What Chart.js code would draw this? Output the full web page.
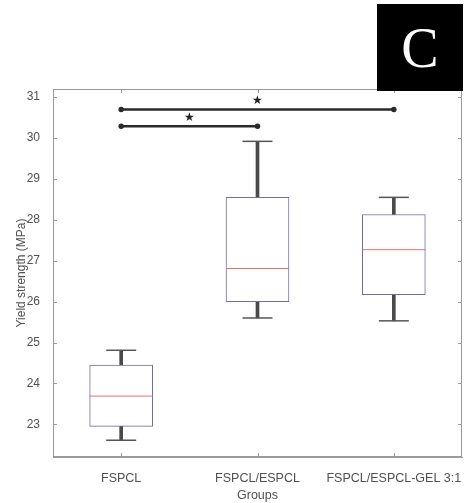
<!DOCTYPE html>
<html>
<head>
<meta charset="utf-8">
<script src="https://cdn.jsdelivr.net/npm/chart.js@4"></script>
<style>
  body { margin: 0; background: #fff; }
  #wrap { position: relative; width: 470px; height: 503px; }
  #panel {
    position: absolute; left: 377px; top: 4px; width: 86px; height: 87px;
    background: #000; color: #fff;
    font: 56px "Liberation Serif", "DejaVu Serif", serif;
    display: flex; align-items: center; justify-content: center;
  }
</style>
</head>
<body>
<div id="wrap">
  <canvas id="chart" width="470" height="503"></canvas>
  <div id="panel">C</div>
</div>
<script>
// Box plot summary per group
const groups = ['FSPCL', 'FSPCL/ESPCL', 'FSPCL/ESPCL-GEL 3:1'];
const whiskerLow = [22.61, 25.60, 25.53];
const q1 = [22.95, 26.00, 26.17];
const median = [23.69, 26.81, 27.27];
const q3 = [24.45, 28.55, 28.13];
const whiskerHigh = [24.81, 29.92, 28.55];

// Significance brackets: [from group, to group, height]
const sigPairs = [[0, 1, 30.29], [0, 2, 30.70]];
const starX = [0.5, 1];
const starY = [30.50, 30.90];

const yTicks = [23, 24, 25, 26, 27, 28, 29, 30, 31];

const FONT = "'Liberation Sans', Arial, sans-serif";
const AXIS_COLOR = '#9a9a9a';
const TEXT_COLOR = '#505050';

// Axes frame with inward tick marks, plus significance stars
const framePlugin = {
  id: 'frame',
  afterDatasetsDraw(chart) {
    const { ctx, chartArea: a, scales } = chart;
    ctx.save();
    ctx.strokeStyle = AXIS_COLOR;
    ctx.lineWidth = 1;
    ctx.strokeRect(a.left + 0.5, a.top + 0.5, a.right - a.left - 1, a.bottom - a.top - 1);
    ctx.beginPath();
    yTicks.forEach(v => {
      const y = Math.round(scales.y.getPixelForValue(v)) + 0.5;
      ctx.moveTo(a.left, y); ctx.lineTo(a.left + 4, y);
      ctx.moveTo(a.right, y); ctx.lineTo(a.right - 4, y);
    });
    groups.forEach((g, i) => {
      const x = Math.round(scales.x.getPixelForValue(i)) + 0.5;
      ctx.moveTo(x, a.bottom); ctx.lineTo(x, a.bottom - 4);
      ctx.moveTo(x, a.top); ctx.lineTo(x, a.top + 4);
    });
    ctx.stroke();

    ctx.fillStyle = '#222';
    ctx.font = "12px 'DejaVu Sans', sans-serif";
    ctx.textAlign = 'center';
    ctx.textBaseline = 'middle';
    starX.forEach((sx, i) => {
      ctx.fillText('\u2605', scales.x.getPixelForValue(sx), scales.y.getPixelForValue(starY[i]));
    });
    ctx.restore();
  }
};

const boxData = groups.map((g, i) => ({ x: i, y: [q1[i], q3[i]] }));
const upperWhisker = groups.map((g, i) => ({ x: i, y: [q3[i], whiskerHigh[i]] }));
const lowerWhisker = groups.map((g, i) => ({ x: i, y: [whiskerLow[i], q1[i]] }));
const caps = groups.flatMap((g, i) => [{ x: i, y: whiskerHigh[i] }, { x: i, y: whiskerLow[i] }]);
const medians = groups.map((g, i) => ({ x: i, y: median[i] }));

const sigDatasets = sigPairs.map(p => ({
  type: 'line',
  data: [{ x: p[0], y: p[2] }, { x: p[1], y: p[2] }],
  borderColor: '#2a2a2a',
  backgroundColor: '#2a2a2a',
  borderWidth: 2.5,
  pointRadius: 1.5,
  order: 0
}));

new Chart(document.getElementById('chart').getContext('2d'), {
  type: 'bar',
  data: {
    datasets: [
      {
        data: upperWhisker, grouped: false, barThickness: 3,
        backgroundColor: '#4a4a4a', borderWidth: 0, order: 3
      },
      {
        data: lowerWhisker, grouped: false, barThickness: 3,
        backgroundColor: '#4a4a4a', borderWidth: 0, order: 3
      },
      {
        data: boxData, grouped: false, barThickness: 63,
        backgroundColor: '#ffffff', borderColor: '#6e6ea0',
        borderWidth: 1, borderSkipped: false, order: 2
      },
      {
        type: 'line', data: caps, showLine: false,
        pointStyle: 'line', pointRadius: 15, pointHoverRadius: 15,
        borderColor: '#555555', borderWidth: 1.5, order: 1
      },
      {
        type: 'line', data: medians, showLine: false,
        pointStyle: 'line', pointRadius: 31.5, pointHoverRadius: 31.5,
        borderColor: '#e07070', borderWidth: 1, order: 1
      },
      ...sigDatasets
    ]
  },
  options: {
    responsive: false,
    animation: false,
    events: [],
    layout: { autoPadding: false, padding: { top: 89, right: 8, left: 0, bottom: 0 } },
    plugins: { legend: { display: false }, tooltip: { enabled: false } },
    scales: {
      x: {
        type: 'linear',
        min: -0.5,
        max: 2.5,
        offset: false,
        grid: { display: false },
        border: { color: AXIS_COLOR },
        afterBuildTicks: s => { s.ticks = groups.map((g, i) => ({ value: i })); },
        afterFit: s => { s.height = 46; s.paddingLeft = 0; s.paddingRight = 0; },
        ticks: {
          padding: 6,
          color: TEXT_COLOR,
          font: { family: FONT, size: 12.5 },
          maxRotation: 0,
          autoSkip: false,
          callback: v => groups[v]
        },
        title: {
          display: true, text: 'Groups', color: TEXT_COLOR,
          font: { family: FONT, size: 12.5 }, padding: { top: 2, bottom: 0 }
        }
      },
      y: {
        min: 22.2,
        max: 31.2,
        grid: { display: false },
        border: { color: AXIS_COLOR },
        afterBuildTicks: s => { s.ticks = yTicks.map(v => ({ value: v })); },
        afterFit: s => { s.width = 53; s.paddingTop = 0; s.paddingBottom = 0; },
        ticks: {
          padding: 5,
          color: TEXT_COLOR,
          font: { family: FONT, size: 12 }
        },
        title: {
          display: true, text: 'Yield strength (MPa)', color: TEXT_COLOR,
          font: { family: FONT, size: 12 }, padding: { top: 14, bottom: 0 }
        }
      }
    }
  },
  plugins: [framePlugin]
});
</script>
</body>
</html>
